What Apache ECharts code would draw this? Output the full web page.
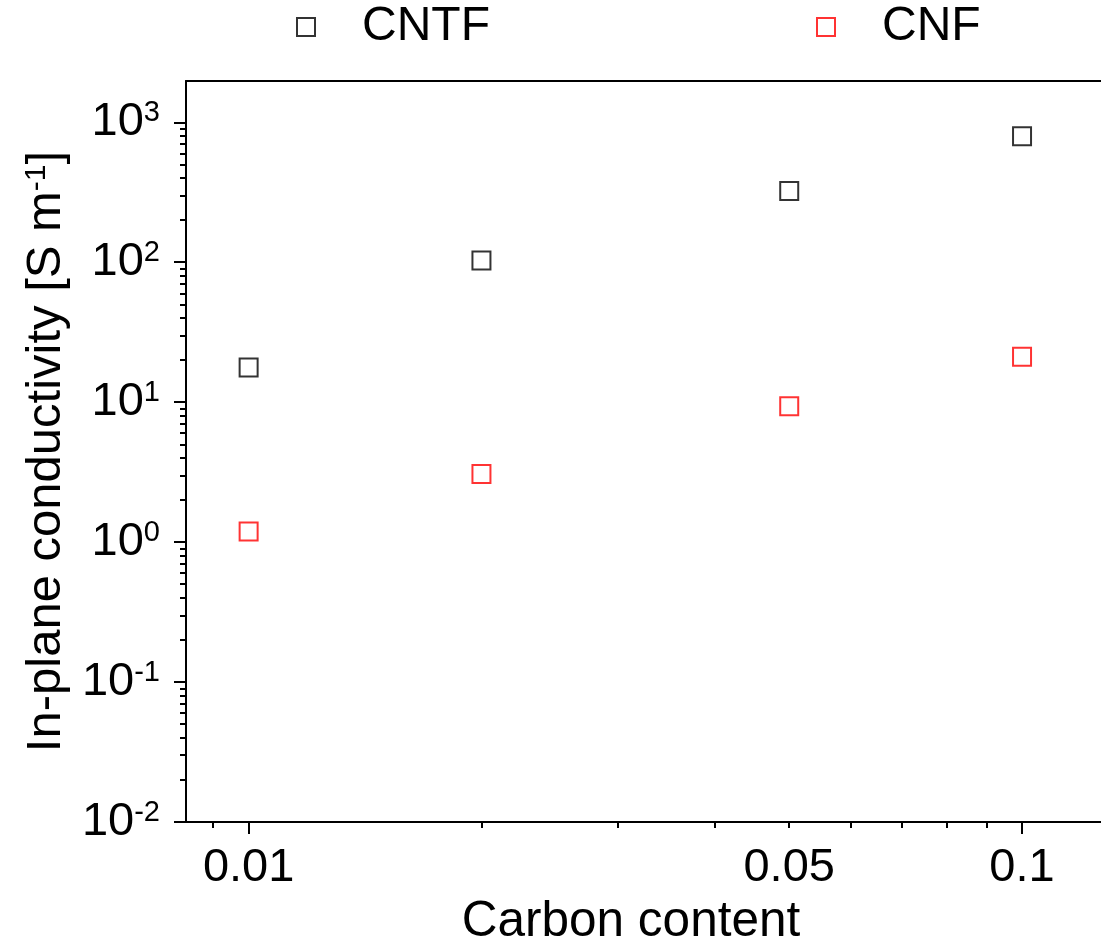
<!DOCTYPE html>
<html>
<head>
<meta charset="utf-8">
<script src="https://cdn.jsdelivr.net/npm/echarts@6/dist/echarts.min.js"></script>
<style>
  html, body { margin: 0; padding: 0; background: #fff; }
  #chart { width: 1101px; height: 948px; }
</style>
</head>
<body>
<div id="chart"></div>
<script>
// Carbon content (x) and in-plane conductivity in S/m (y) for the two film types
const carbonContent = [0.01, 0.02, 0.05, 0.1];
const cntfConductivity = [17.7, 103, 323, 794];
const cnfConductivity = [1.19, 3.07, 9.36, 21.1];

// Axis tick definitions (both axes are logarithmic)
const xTickLabels = [0.01, 0.05, 0.1];
const xMajorTicks = [0.01, 0.1];
const xMinorTicks = [0.009, 0.02, 0.03, 0.04, 0.05, 0.06, 0.07, 0.08, 0.09];
const yExponents = [-2, -1, 0, 1, 2, 3];
const xRange = [0.008299, 0.1265];
const yRange = [0.01, 1972];

const FONT = '"Liberation Sans", Arial, Helvetica, sans-serif';
const lg = Math.log10;

const yMajorTicks = yExponents.map(e => Math.pow(10, e));
const yMinorTicks = [];
yExponents.forEach(e => {
  for (let k = 2; k <= 9; k++) {
    const v = k * Math.pow(10, e);
    if (v <= yRange[1]) yMinorTicks.push(v);
  }
});

const toPoints = ys => carbonContent.map((c, i) => [lg(c), lg(ys[i])]);

const axisLineStyle = { color: '#000', width: 2 };

function closestLabel(v, list) {
  let best = list[0];
  list.forEach(x => { if (Math.abs(lg(x) - v) < Math.abs(lg(best) - v)) best = x; });
  return String(best);
}

const xBase = {
  type: 'value',
  min: lg(xRange[0]),
  max: lg(xRange[1]),
  splitLine: { show: false },
  axisPointer: { show: false }
};
const yBase = {
  type: 'value',
  min: lg(yRange[0]),
  max: lg(yRange[1]),
  splitLine: { show: false },
  axisPointer: { show: false }
};

const chart = echarts.init(document.getElementById('chart'), null, { renderer: 'canvas' });

const legendText = { fontFamily: FONT, fontSize: 48, color: '#000', padding: [0, 0, 0, 42] };

chart.setOption({
  animation: false,
  backgroundColor: '#fff',
  textStyle: { fontFamily: FONT },
  grid: { left: 186, right: 0, top: 81, bottom: 126, outerBoundsMode: 'none', containLabel: false },
  legend: [
    {
      data: ['CNTF'],
      left: 296, top: 3, padding: 0,
      icon: 'rect', itemWidth: 18, itemHeight: 18,
      selectedMode: false,
      textStyle: legendText
    },
    {
      data: ['CNF'],
      left: 816, top: 3, padding: 0,
      icon: 'rect', itemWidth: 18, itemHeight: 18,
      selectedMode: false,
      textStyle: legendText
    }
  ],
  xAxis: [
    Object.assign({}, xBase, {
      position: 'bottom',
      name: 'Carbon content',
      nameLocation: 'middle',
      nameGap: 73,
      nameTextStyle: { fontFamily: FONT, fontSize: 49.5, color: '#000', padding: [0, 25, 0, 0] },
      axisLine: { show: true, onZero: false, lineStyle: axisLineStyle },
      axisTick: { show: true, inside: false, length: 12, lineStyle: axisLineStyle, customValues: xMajorTicks.map(lg) },
      axisLabel: {
        show: true, margin: 23, fontFamily: FONT, fontSize: 47, color: '#000',
        customValues: xTickLabels.map(lg),
        formatter: v => closestLabel(v, xTickLabels)
      }
    }),
    Object.assign({}, xBase, {
      position: 'bottom',
      axisLine: { show: false, onZero: false },
      axisTick: { show: true, inside: false, length: 6, lineStyle: axisLineStyle, customValues: xMinorTicks.map(lg) },
      axisLabel: { show: false }
    }),
    Object.assign({}, xBase, {
      position: 'top',
      axisLine: { show: true, onZero: false, lineStyle: axisLineStyle },
      axisTick: { show: false },
      axisLabel: { show: false }
    })
  ],
  yAxis: [
    Object.assign({}, yBase, {
      position: 'left',
      name: '{t|In-plane conductivity [S m}{s|-1}{t|]}',
      nameLocation: 'middle',
      nameGap: 115,
      nameTextStyle: {
        color: '#000',
        rich: {
          t: { fontFamily: FONT, fontSize: 49, lineHeight: 49, color: '#000' },
          s: { fontFamily: FONT, fontSize: 30, lineHeight: 19, verticalAlign: 'top', color: '#000' }
        }
      },
      axisLine: { show: true, onZero: false, lineStyle: axisLineStyle },
      axisTick: { show: true, inside: false, length: 12, lineStyle: axisLineStyle, customValues: yMajorTicks.map(lg) },
      axisLabel: {
        show: true, margin: 26, color: '#000',
        customValues: yExponents,
        formatter: v => '{b|10}{s|' + Math.round(v) + '}',
        rich: {
          b: { fontFamily: FONT, fontSize: 47, lineHeight: 47, color: '#000' },
          s: { fontFamily: FONT, fontSize: 29, lineHeight: 18, verticalAlign: 'top', color: '#000' }
        }
      }
    }),
    Object.assign({}, yBase, {
      position: 'left',
      axisLine: { show: false, onZero: false },
      axisTick: { show: true, inside: false, length: 6, lineStyle: axisLineStyle, customValues: yMinorTicks.map(lg) },
      axisLabel: { show: false }
    })
  ],
  series: [
    {
      name: 'CNTF',
      type: 'scatter',
      xAxisIndex: 0, yAxisIndex: 0,
      symbol: 'rect',
      symbolSize: 18,
      itemStyle: { color: '#fff', borderColor: '#000', borderWidth: 2 },
      emphasis: { disabled: true },
      data: toPoints(cntfConductivity)
    },
    {
      name: 'CNF',
      type: 'scatter',
      xAxisIndex: 0, yAxisIndex: 0,
      symbol: 'rect',
      symbolSize: 18,
      itemStyle: { color: '#fff', borderColor: '#ff0000', borderWidth: 2 },
      emphasis: { disabled: true },
      data: toPoints(cnfConductivity)
    }
  ]
});
</script>
</body>
</html>
